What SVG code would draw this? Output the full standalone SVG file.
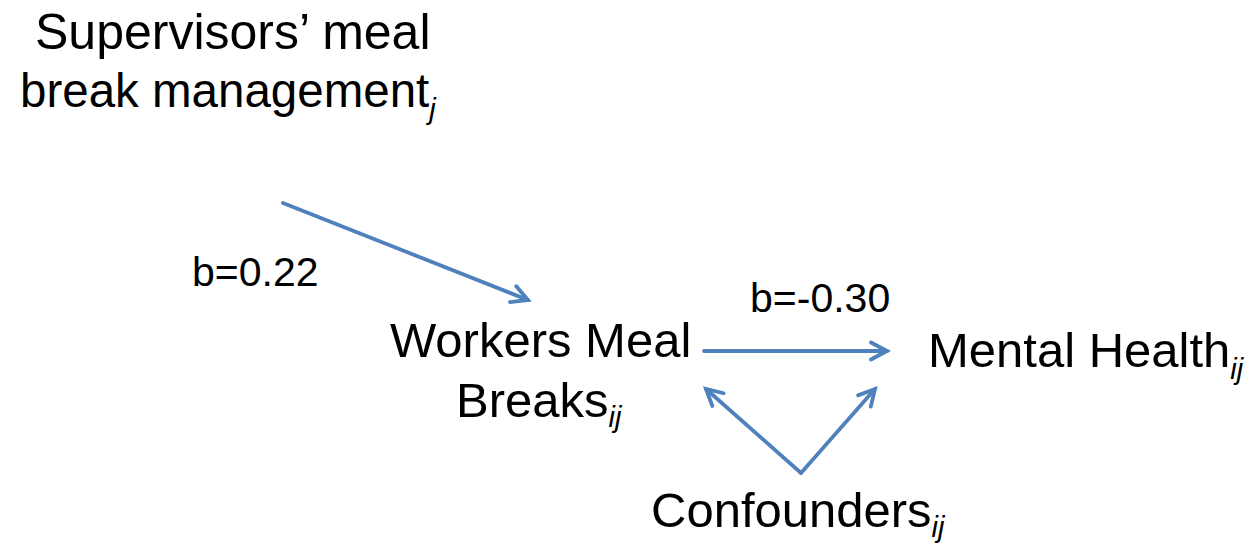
<svg xmlns="http://www.w3.org/2000/svg" width="1256" height="547" viewBox="0 0 1256 547">
<style>
  text { font-family: "Liberation Sans", Arial, sans-serif; fill: #000; }
  .node { font-size: 49px; }
  .lbl { font-size: 41px; }
  .sub { font-size: 29px; font-style: italic; }
  .conn { stroke: #4F81BD; stroke-width: 3.8; fill: none; stroke-linecap: round; }
</style>
<defs>
  <marker id="arr" markerUnits="userSpaceOnUse" markerWidth="40" markerHeight="40" refX="20" refY="20" orient="auto" viewBox="0 0 40 40">
    <path d="M4 11.5 L20 20 L4 28.5" fill="none" stroke="#4F81BD" stroke-width="3.8" stroke-linecap="round" stroke-linejoin="miter"/>
  </marker>
</defs>
<rect width="1256" height="547" fill="#fff"/>
<g id="connectors">
  <line class="conn" x1="283" y1="203" x2="528" y2="300" marker-end="url(#arr)"/>
  <line class="conn" x1="704" y1="351" x2="887" y2="351" marker-end="url(#arr)"/>
  <line class="conn" x1="801" y1="473" x2="706" y2="389" marker-end="url(#arr)"/>
  <line class="conn" x1="801" y1="473" x2="875" y2="389" marker-end="url(#arr)"/>
</g>
<g id="supervisors">
  <text class="node" x="35" y="49" style="font-size:50px">Supervisors’ meal</text>
  <text class="node" x="20" y="107" style="font-size:47.5px">break management<tspan class="sub" dy="12">j</tspan></text>
</g>
<g id="label-b022">
  <text class="lbl" x="192" y="286">b=0.22</text>
</g>
<g id="label-b030">
  <text class="lbl" x="750" y="312">b=-0.30</text>
</g>
<g id="workers">
  <text class="node" x="390" y="357">Workers Meal</text>
  <text class="node" x="456" y="417">Breaks<tspan class="sub" dy="10">ij</tspan></text>
</g>
<g id="mental-health">
  <text class="node" x="928" y="367">Mental Health<tspan class="sub" dy="12">ij</tspan></text>
</g>
<g id="confounders">
  <text class="node" x="651" y="527">Confounders<tspan class="sub" dy="10">ij</tspan></text>
</g>
</svg>
